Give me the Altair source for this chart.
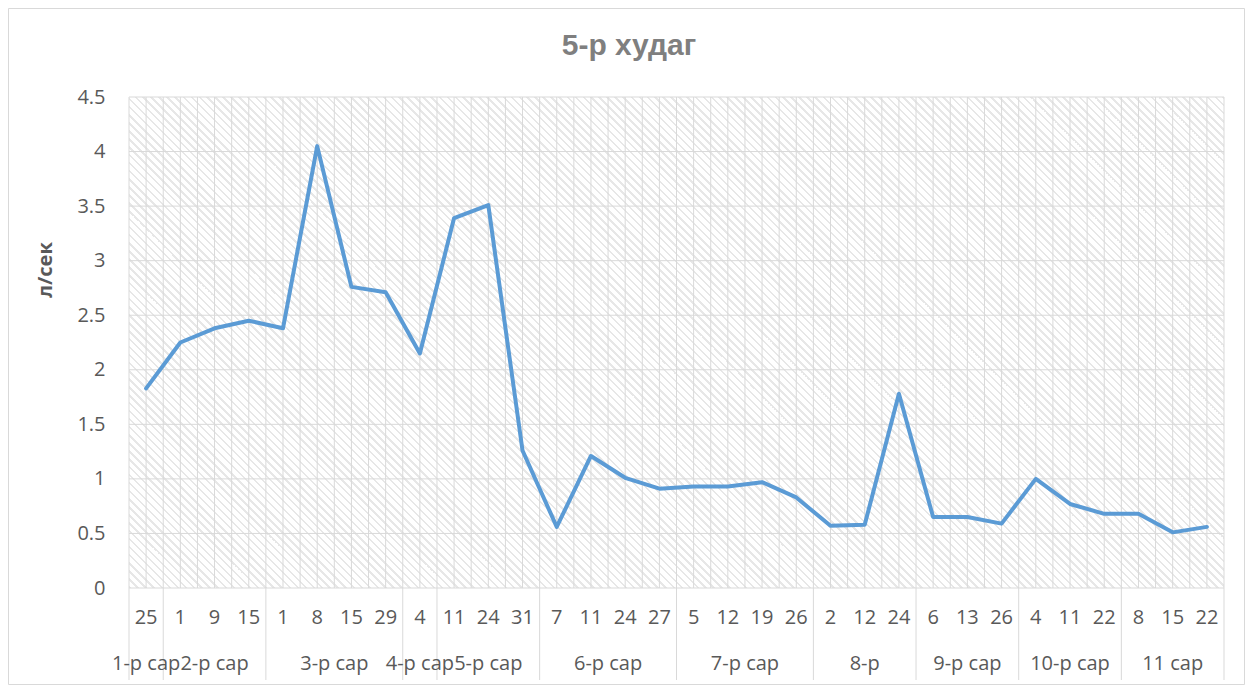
import altair as alt
import pandas as pd

# ---- data ----
months = ["1-р сар", "2-р сар", "3-р сар", "4-р сар", "5-р сар", "6-р сар",
          "7-р сар", "8-р", "9-р сар", "10-р сар", "11 сар"]
month_days = [[25], [1, 9, 15], [1, 8, 15, 29], [4], [11, 24, 31], [7, 11, 24, 27],
              [5, 12, 19, 26], [2, 12, 24], [6, 13, 26], [4, 11, 22], [8, 15, 22]]
values = [1.83, 2.25, 2.38, 2.45, 2.38, 4.05, 2.76, 2.71, 2.15, 3.39, 3.51, 1.26,
          0.56, 1.21, 1.01, 0.91, 0.93, 0.93, 0.97, 0.83, 0.57, 0.58, 1.78,
          0.65, 0.65, 0.59, 1.00, 0.77, 0.68, 0.68, 0.51, 0.56]
y_ticks = [0, 0.5, 1, 1.5, 2, 2.5, 3, 3.5, 4, 4.5]

# ---- derived tables ----
days = [d for group in month_days for d in group]
n = len(days)
df = pd.DataFrame({"pos": [i + 0.5 for i in range(n)], "val": values,
                   "day": [str(d) for d in days]})

bounds = [0]
for g in month_days:
    bounds.append(bounds[-1] + len(g))
month_df = pd.DataFrame({"center": [(bounds[i] + bounds[i + 1]) / 2 for i in range(len(months))],
                         "month": months})
sep_df = pd.DataFrame({"b": bounds})
vgrid_df = pd.DataFrame({"xg": [k * 0.5 for k in range(2 * n + 1)]})
hgrid_df = pd.DataFrame({"yg": y_ticks})

# ---- layout ----
W, H = 1095, 491
PAD = {"left": 121, "top": 89, "right": 21, "bottom": 97}
FONT = "Open Sans"
TXT = "#595959"
GRID = "#d9d9d9"

xscale = alt.Scale(domain=[0, n], nice=False, zero=False)
yscale = alt.Scale(domain=[0, 4.5], nice=False, zero=False)
yaxis = alt.Axis(values=y_ticks, format="~g", title=None, grid=False,
                 domain=False, ticks=False, tickSize=0, labelPadding=24,
                 labelFont=FONT, labelFontSize=20, labelColor=TXT)

# hatched background via a striped linear gradient (45 deg "\" stripes),
# horizontal stripe period of exactly 8 px
r = H / W
span = W + H
periods = span // 8 + 1
k = (1 + r) / (1 + r * r) * (periods * 8) / span
frac = 0.34
HATCH = "#e7e7e7"
stops = []
for p in range(periods):
    a = round(p / periods, 6)
    b = round((p + frac) / periods, 6)
    c = round((p + 1) / periods, 6)
    stops += [{"offset": a, "color": HATCH}, {"offset": b, "color": HATCH},
              {"offset": b, "color": "#ffffff"}, {"offset": c, "color": "#ffffff"}]
gradient = {"gradient": "linear", "x1": 0, "y1": 1, "x2": round(k, 6),
            "y2": round(1 - k * r, 6), "stops": stops}

one = alt.Data(values=[{"a": 1}])

bg = alt.Chart(one).mark_rect(fill=gradient).encode(
    x=alt.value(0), x2=alt.value(W), y=alt.value(0), y2=alt.value(H))

vgrid = alt.Chart(vgrid_df).mark_rule(color=GRID, strokeWidth=1).encode(
    x=alt.X("xg:Q", scale=xscale, axis=None), y=alt.value(0), y2=alt.value(H))

hgrid = alt.Chart(hgrid_df).mark_rule(color=GRID, strokeWidth=1).encode(
    y=alt.Y("yg:Q", scale=yscale, axis=yaxis),
    x=alt.value(0), x2=alt.value(W))

seps = alt.Chart(sep_df).mark_rule(color=GRID, strokeWidth=1).encode(
    x=alt.X("b:Q", scale=xscale, axis=None), y=alt.value(H), y2=alt.value(H + 92))

line = alt.Chart(df).mark_line(color="#5b9bd5", strokeWidth=4, strokeJoin="round",
                               strokeCap="round").encode(
    x=alt.X("pos:Q", scale=xscale, axis=None),
    y=alt.Y("val:Q", scale=yscale, axis=yaxis))

day_text = alt.Chart(df).mark_text(font=FONT, fontSize=20, color=TXT,
                                   baseline="middle", align="center").encode(
    x=alt.X("pos:Q", scale=xscale, axis=None), y=alt.value(H + 30), text="day:N")

month_text = alt.Chart(month_df).mark_text(font=FONT, fontSize=20, color=TXT,
                                           baseline="middle", align="center").encode(
    x=alt.X("center:Q", scale=xscale, axis=None), y=alt.value(H + 76), text="month:N")

title = alt.Chart(one).mark_text(text="5-р худаг", font="Liberation Sans", fontSize=30,
                                 fontWeight="bold", color="#7f7f7f", align="center",
                                 baseline="alphabetic").encode(
    x=alt.value(500), y=alt.value(-42))

ytitle = alt.Chart(one).mark_text(text="л/сек", font=FONT, fontSize=20, fontWeight="bold",
                                  color=TXT, angle=270, align="center",
                                  baseline="middle").encode(
    x=alt.value(-83.5), y=alt.value(173))

border = alt.Chart(one).mark_rect(filled=False, stroke=GRID, strokeWidth=1).encode(
    x=alt.value(-PAD["left"] + 0.5), x2=alt.value(W + PAD["right"] - 0.5),
    y=alt.value(-PAD["top"] + 0.5), y2=alt.value(H + PAD["bottom"] - 0.5))

chart = alt.layer(bg, vgrid, hgrid, seps, line, day_text, month_text, title, ytitle,
                  border).properties(
    width=W, height=H,
    autosize=alt.AutoSizeParams(type="none"),
    padding=PAD,
    background="white",
).configure_view(stroke=None)

chart.save("out.html", embed_options={"renderer": "svg", "actions": False})
